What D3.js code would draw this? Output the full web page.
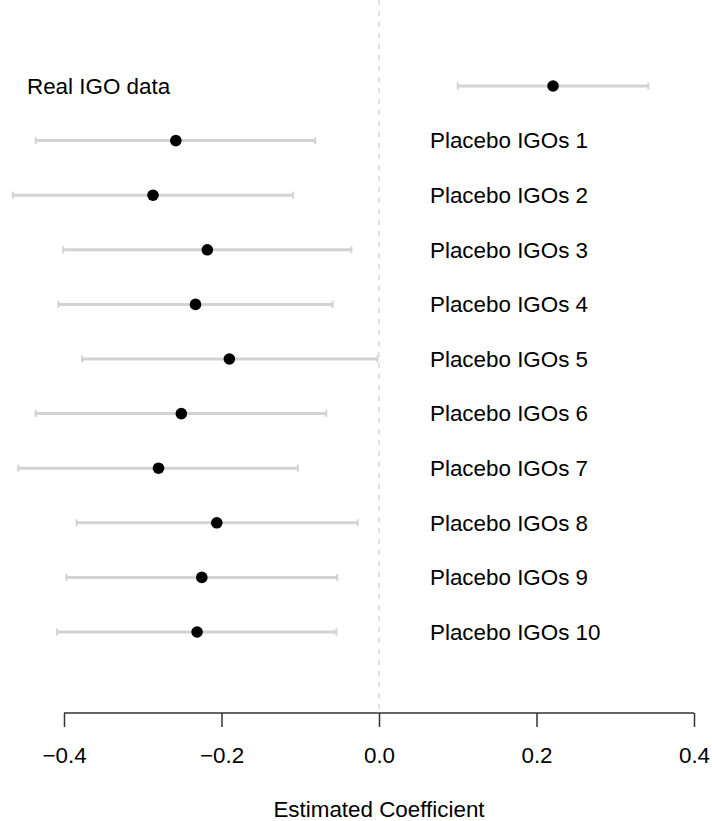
<!DOCTYPE html>
<html>
<head>
<meta charset="utf-8">
<script src="https://cdn.jsdelivr.net/npm/d3@7"></script>
<style>
  html, body { margin: 0; padding: 0; background: #fff; }
  svg { display: block; }
  text { font-family: "Liberation Sans", Arial, sans-serif; }
</style>
</head>
<body>
<svg id="chart" width="712" height="821"></svg>
<script>
// Data
const labels = ["Real IGO data", "Placebo IGOs 1", "Placebo IGOs 2", "Placebo IGOs 3", "Placebo IGOs 4",
  "Placebo IGOs 5", "Placebo IGOs 6", "Placebo IGOs 7", "Placebo IGOs 8", "Placebo IGOs 9", "Placebo IGOs 10"];
const estimates = [0.221, -0.258, -0.287, -0.218, -0.233, -0.190, -0.251, -0.280, -0.206, -0.225, -0.231];
const lowerCI   = [0.100, -0.436, -0.465, -0.401, -0.407, -0.377, -0.436, -0.458, -0.384, -0.397, -0.409];
const upperCI   = [0.342, -0.081, -0.109, -0.035, -0.059, -0.002, -0.067, -0.103, -0.027, -0.053, -0.054];
const xTicks = [-0.4, -0.2, 0.0, 0.2, 0.4];
const xTitle = "Estimated Coefficient";

const svg = d3.select("#chart");
const x = d3.scaleLinear().domain([-0.4, 0.4]).range([64, 694]);
const y = d3.scaleLinear().domain([0, 10]).range([86, 632]);
const axisY = 713;
const fontSize = "22.4px";

// zero reference line
svg.append("line")
  .attr("x1", x(0)).attr("x2", x(0))
  .attr("y1", 0).attr("y2", axisY)
  .attr("stroke", "#cccccc").attr("stroke-width", 1.2)
  .attr("stroke-dasharray", "5,6");

const rows = labels.map((l, i) => ({ label: l, est: estimates[i], lo: lowerCI[i], hi: upperCI[i], i }));

const g = svg.append("g");
// CI lines
g.selectAll("line.ci").data(rows).enter().append("line")
  .attr("class", "ci")
  .attr("x1", d => x(d.lo)).attr("x2", d => x(d.hi))
  .attr("y1", d => y(d.i)).attr("y2", d => y(d.i))
  .attr("stroke", "#d3d3d3").attr("stroke-width", 3);
// caps
["lo", "hi"].forEach(k => {
  g.selectAll("line.cap-" + k).data(rows).enter().append("line")
    .attr("class", "cap-" + k)
    .attr("x1", d => x(d[k])).attr("x2", d => x(d[k]))
    .attr("y1", d => y(d.i) - 3.5).attr("y2", d => y(d.i) + 3.5)
    .attr("stroke", "#d3d3d3").attr("stroke-width", 2);
});
// points
g.selectAll("circle").data(rows).enter().append("circle")
  .attr("cx", d => x(d.est)).attr("cy", d => y(d.i))
  .attr("r", 5.8).attr("fill", "#000");

// labels
g.selectAll("text.lab").data(rows).enter().append("text")
  .attr("class", "lab")
  .attr("x", d => d.i === 0 ? 27 : 430)
  .attr("y", d => y(d.i))
  .attr("dy", "0.35em")
  .attr("font-size", fontSize)
  .attr("fill", "#000")
  .text(d => d.label);

// axis
const axis = d3.axisBottom(x).tickValues(xTicks).tickSize(14).tickPadding(20)
  .tickFormat(d => d3.format(".1f")(d).replace("-", "\u2212"));
const ax = svg.append("g").attr("transform", `translate(0,${axisY})`).call(axis);
ax.select(".domain").attr("stroke", "#333").attr("stroke-width", 1.5).attr("d", `M${x(-0.4)},0H${x(0.4)}`);
ax.selectAll(".tick line").attr("stroke", "#333").attr("stroke-width", 1.5);
ax.selectAll(".tick text").attr("font-size", fontSize).attr("fill", "#000")
  .attr("font-family", "'Liberation Sans', Arial, sans-serif");

svg.append("text")
  .attr("x", (x(-0.4) + x(0.4)) / 2).attr("y", 816.5)
  .attr("text-anchor", "middle")
  .attr("font-size", fontSize)
  .attr("fill", "#000")
  .text(xTitle);
</script>
</body>
</html>
